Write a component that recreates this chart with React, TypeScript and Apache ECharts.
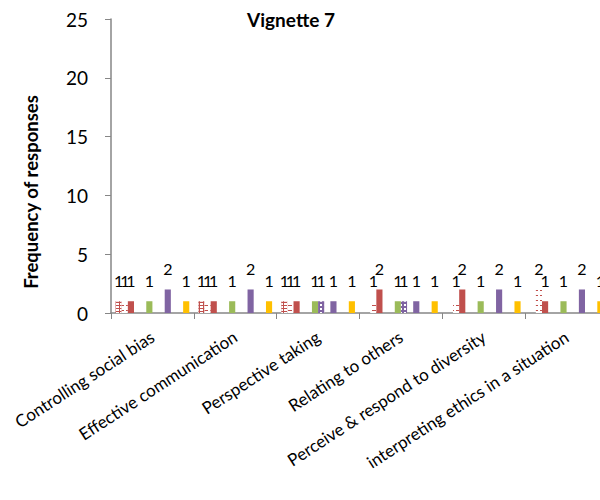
import React, { useEffect, useRef } from "react";
import * as echarts from "echarts";

// Categories along the x axis
const categories = [
  "Controlling social bias",
  "Effective communication",
  "Perspective taking",
  "Relating to others",
  "Perceive & respond to diversity",
  "interpreting ethics in a situation",
];

// Response counts per bar slot (null = no bar)
const redBrick = [1, 1, 1, null, null, null];
const redDashed = [1, 1, 1, 1, 1, 2];
const redSolid = [1, 1, 1, 2, 2, 1];
const greenSolid = [1, 1, 1, 1, 1, 1];
const purpleChecker = [null, null, 1, 1, null, null];
const purpleSolid = [2, 2, 1, 1, 2, 2];
const yellowSolid = [1, 1, 1, 1, 1, 1];
const emptySlot: (number | null)[] = [];

const yTicks = { min: 0, max: 25, interval: 5 };

const RED = "#C0504D";
const GREEN = "#9BBB59";
const PURPLE = "#8064A2";
const YELLOW = "#FFC000";
const AXIS = "#868686";
const FONT = "Lato, 'Liberation Sans', sans-serif";

export default function App() {
  const ref = useRef<HTMLDivElement>(null);

  useEffect(() => {
    if (!ref.current) return;
    const chart = echarts.init(ref.current, undefined, { renderer: "svg" });

    const label = {
      show: true,
      position: "top" as const,
      distance: 13,
      color: "#000",
      fontSize: 16,
      fontFamily: FONT,
    };

    const bar = (name: string, data: (number | null)[], itemStyle: any) => ({
      name,
      type: "bar" as const,
      data,
      barGap: "0%",
      barCategoryGap: "11%",
      itemStyle,
      label,
    });

    chart.setOption({
      animation: false,
      textStyle: { fontFamily: FONT },
      grid: { left: 111, right: 12, top: 19, bottom: 187, containLabel: false },
      graphic: [
        {
          type: "text",
          x: 291,
          y: 19,
          style: {
            text: "Vignette 7",
            fontSize: 19,
            fontWeight: "bold",
            fontFamily: FONT,
            fill: "#000",
            textAlign: "center",
            textVerticalAlign: "middle",
          },
        },
        {
          type: "text",
          x: 31,
          y: 192,
          rotation: Math.PI / 2,
          style: {
            text: "Frequency of responses",
            fontSize: 18.5,
            fontWeight: "bold",
            fontFamily: FONT,
            fill: "#000",
            textAlign: "center",
            textVerticalAlign: "middle",
          },
        },
      ],
      xAxis: {
        type: "category",
        data: categories,
        boundaryGap: true,
        axisLine: { lineStyle: { color: AXIS, width: 1.5 } },
        axisTick: { show: true, length: 6, lineStyle: { color: AXIS } },
        axisLabel: {
          interval: 0,
          rotate: 33,
          margin: 22,
          color: "#000",
          fontSize: 17,
          fontFamily: FONT,
        },
      },
      yAxis: {
        type: "value",
        min: yTicks.min,
        max: yTicks.max,
        interval: yTicks.interval,
        axisLine: { show: true, lineStyle: { color: AXIS, width: 1.5 } },
        axisTick: { show: true, length: 6, lineStyle: { color: AXIS } },
        splitLine: { show: false },
        axisLabel: { margin: 23, color: "#000", fontSize: 19, fontFamily: FONT },
      },
      series: [
        bar("Red brick", redBrick, {
          color: RED,
          decal: {
            symbol: "rect",
            symbolSize: 1,
            color: "#fff",
            dashArrayX: [[3, 1]],
            dashArrayY: [2, 1],
            rotation: 0,
          },
        }),
        bar("Red dashed", redDashed, {
          color: "#fff",
          decal: {
            symbol: "rect",
            symbolSize: 1,
            color: RED,
            dashArrayX: [[4, 2]],
            dashArrayY: [1, 4],
            rotation: 0,
          },
        }),
        bar("Red", redSolid, { color: RED }),
        bar("Green A", emptySlot, { color: GREEN }),
        bar("Green B", emptySlot, { color: GREEN }),
        bar("Green", greenSolid, { color: GREEN }),
        bar("Purple checker", purpleChecker, {
          color: PURPLE,
          decal: {
            symbol: "rect",
            symbolSize: 1,
            color: "#fff",
            dashArrayX: [[2, 2]],
            dashArrayY: [2, 2],
            rotation: 0,
          },
        }),
        bar("Purple B", emptySlot, { color: PURPLE }),
        bar("Purple", purpleSolid, { color: PURPLE }),
        bar("Yellow A", emptySlot, { color: YELLOW }),
        bar("Yellow B", emptySlot, { color: YELLOW }),
        bar("Yellow", yellowSolid, { color: YELLOW }),
      ],
    });

    return () => chart.dispose();
  }, []);

  return (
    <div
      style={{
        position: "fixed",
        left: 0,
        top: 0,
        width: 600,
        height: 500,
        overflow: "hidden",
        background: "#fff",
      }}
    >
      <div ref={ref} style={{ width: 620, height: 500 }} />
    </div>
  );
}
